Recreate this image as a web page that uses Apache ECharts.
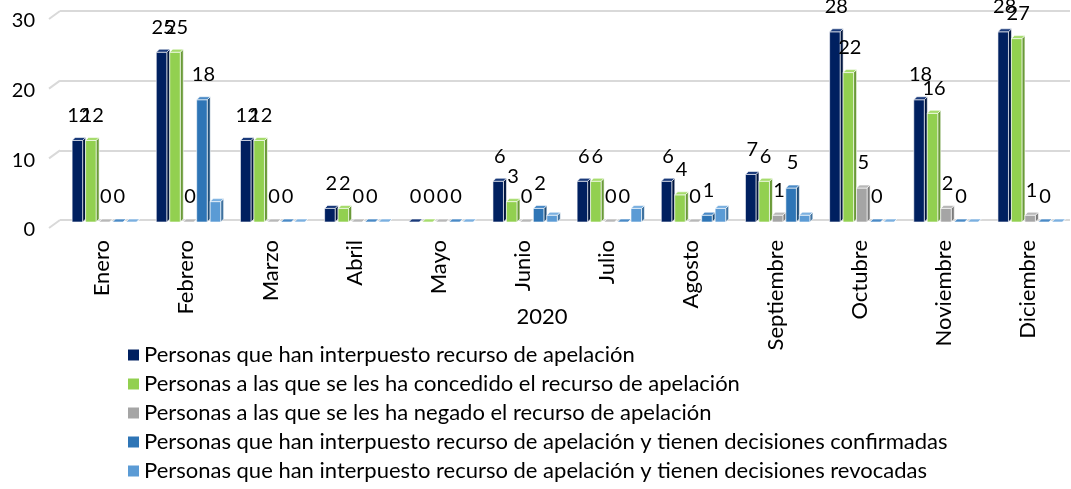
<!DOCTYPE html>
<html>
<head>
<meta charset="utf-8">
<script src="https://cdn.jsdelivr.net/npm/echarts@6/dist/echarts.min.js"></script>
<style>
html, body { margin: 0; padding: 0; background: #fff; }
#chart { width: 1071px; height: 489px; }
</style>
</head>
<body>
<div id="chart"></div>
<script>
const months = ["Enero", "Febrero", "Marzo", "Abril", "Mayo", "Junio", "Julio", "Agosto", "Septiembre", "Octubre", "Noviembre", "Diciembre"];
const interpuesto = [12, 25, 12, 2, 0, 6, 6, 6, 7, 28, 18, 28];
const concedido = [12, 25, 12, 2, 0, 3, 6, 4, 6, 22, 16, 27];
const negado = [0, 0, 0, 0, 0, 0, 0, 0, 1, 5, 2, 1];
const confirmadas = [0, 18, 0, 0, 0, 2, 0, 1, 5, 0, 0, 0];
const revocadas = [0, 3, 0, 0, 0, 1, 2, 2, 1, 0, 0, 0];
const yTicks = [0, 10, 20, 30];

const FONT = "Lato";

// name, values, front / side / top colours, show label
const seriesDefs = [
  ["Personas que han interpuesto recurso de apelación", interpuesto, "#002060", "#00153f", "#1a3a7a", true],
  ["Personas a las que se les ha concedido el recurso de apelación", concedido, "#92d050", "#6a9a38", "#a6dc6c", true],
  ["Personas a las que se les ha negado el recurso de apelación", negado, "#a5a5a5", "#7b7b7b", "#b8b8b8", true],
  ["Personas que han interpuesto recurso de apelación y tienen decisiones confirmadas", confirmadas, "#2e75b6", "#1f4e79", "#4a8ac6", true],
  ["Personas que han interpuesto recurso de apelación y tienen decisiones revocadas", revocadas, "#5b9bd5", "#3f72a0", "#7bb0e0", false]
];

function bar3d(k, front, side, topc, showLabel) {
  return function (params, api) {
    const cat = api.value(0);
    const v = api.value(1);
    const base = api.coord([cat, 0]);
    const top = api.coord([cat, v]);
    const band = api.size([1, 0])[0];
    const pitch = band * 0.16;
    const w = pitch * 0.78;
    const d = 3;
    const x = base[0] - band * 0.356 + k * pitch;
    const y0 = base[1] + 2;
    const yTop = y0 - (base[1] - top[1]) * 0.975;
    const children = [
      {
        type: "polygon",
        shape: { points: [[x + w, y0], [x + w, yTop], [x + w + d, yTop - d], [x + w + d, y0 - d]] },
        style: { fill: side, stroke: "#fff", lineWidth: 0.6 }
      },
      {
        type: "rect",
        shape: { x: x, y: yTop, width: w, height: y0 - yTop },
        style: { fill: front, stroke: "#fff", lineWidth: 0.6 }
      },
      {
        type: "polygon",
        shape: { points: [[x, yTop], [x + w, yTop], [x + w + d, yTop - d], [x + d, yTop - d]] },
        style: { fill: topc, stroke: "#fff", lineWidth: 0.6 }
      }
    ];
    if (showLabel) {
      children.push({
        type: "text",
        x: x + (w + d) / 2,
        y: yTop - 25,
        style: {
          text: String(v),
          fill: "#000",
          font: "20px " + FONT,
          align: "center",
          verticalAlign: "middle"
        }
      });
    }
    return { type: "group", children: children };
  };
}

const series = seriesDefs.map(function (s, k) {
  return {
    name: s[0],
    type: "custom",
    renderItem: bar3d(k, s[2], s[3], s[4], s[5]),
    itemStyle: { color: s[2] },
    encode: { x: 0, y: 1 },
    clip: false,
    z: 3,
    data: s[1].map(function (v, i) { return [i, v]; })
  };
});

// little slanted ends of the grid lines (back wall look)
series.push({
  name: "wall",
  type: "custom",
  silent: true,
  z: 1,
  renderItem: function (params, api) {
    const cs = params.coordSys;
    const y = api.coord([0, api.value(1)])[1];
    return {
      type: "line",
      shape: { x1: cs.x - 11, y1: y + 8, x2: cs.x, y2: y },
      style: { stroke: "#d9d9d9", lineWidth: 2 }
    };
  },
  encode: { x: 0, y: 1 },
  clip: false,
  data: yTicks.map(function (t) { return [0, t]; })
});

const chart = echarts.init(document.getElementById("chart"));
chart.setOption({
  animation: false,
  textStyle: { fontFamily: FONT },
  grid: { left: 60, right: 1, top: 11, bottom: 269 },
  legend: {
    orient: "vertical",
    left: 128,
    top: 344,
    height: 150,
    padding: 0,
    icon: "rect",
    itemWidth: 11,
    itemHeight: 11,
    itemGap: 7,
    data: seriesDefs.map(function (s) { return s[0]; }),
    textStyle: { fontFamily: FONT, fontSize: 22, color: "#000", lineHeight: 22 },
    selectedMode: false
  },
  xAxis: {
    type: "category",
    data: months,
    axisLine: { show: false },
    axisTick: { show: false },
    axisLabel: { rotate: 90, fontSize: 22, color: "#000", margin: 20, fontFamily: FONT },
    name: "2020",
    nameLocation: "middle",
    nameGap: 86,
    nameMoveOverlap: false,
    nameTextStyle: { fontSize: 22, color: "#000", fontFamily: FONT, padding: [0, 46, 0, 0] }
  },
  yAxis: {
    type: "value",
    min: 0,
    max: 30,
    interval: 10,
    axisLine: { show: false },
    axisTick: { show: false },
    axisLabel: { fontSize: 20, color: "#000", margin: 25, verticalAlign: "top", fontFamily: FONT },
    splitLine: { lineStyle: { color: "#d9d9d9", width: 2 } }
  },
  series: series
});
</script>
</body>
</html>
